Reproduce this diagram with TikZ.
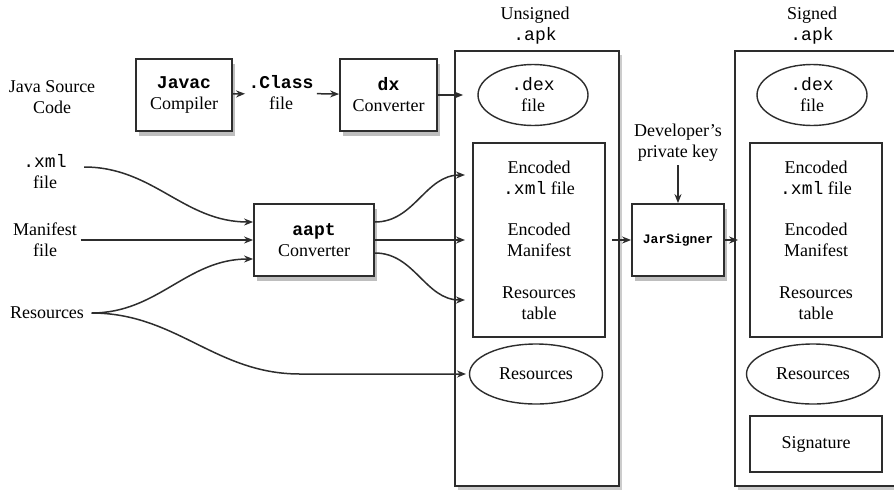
\documentclass[tikz,border=0pt]{standalone}
\usepackage{fontspec}
\setmainfont{Liberation Serif}
\setmonofont{Liberation Mono}
\usepackage{tikz}
\usetikzlibrary{arrows,arrows.meta,shapes,positioning,shadows}
\definecolor{apkline}{RGB}{45,45,45}
\definecolor{apkshadow}{RGB}{110,110,110}
\tikzstyle{arrow} = [line width=1.5pt,->,>={Stealth[length=9pt,width=7pt]},color=apkline]
\tikzstyle{tool} = [rectangle, minimum height=72pt, text centered, align=center, draw=apkline, fill=white, line width=1.8pt, drop shadow={shadow xshift=3pt, shadow yshift=-5pt, fill=apkshadow, opacity=0.45}]
\tikzstyle{apkbox} = [rectangle, minimum width=164pt, minimum height=435pt, draw=apkline, fill=white, line width=1.8pt, drop shadow={shadow xshift=3pt, shadow yshift=-4pt, fill=apkshadow, opacity=0.35}]
\tikzstyle{entry} = [ellipse, minimum width=110pt, minimum height=61pt, text centered, align=center, draw=apkline, line width=1.4pt]
\tikzstyle{section} = [rectangle, minimum width=132pt, draw=apkline, line width=1.4pt]
\tikzstyle{lbl} = [align=center, text centered]

\begin{document}
\begin{tikzpicture}[x=1pt, y=1pt, font=\fontsize{18}{21}\selectfont]
\useasboundingbox (0,0) rectangle (894,-491);

% Java sources
\node (javasrc) [lbl] at (52,-97) {Java Source\\Code};
\node (javac) [tool, minimum width=96pt] at (184,-95) {\textbf{\texttt{Javac}}\\Compiler};
\node (classf) [lbl] at (281,-93) {\textbf{\texttt{.Class}}\\file};
\node (dx) [tool, minimum width=97pt] at (388.5,-95) {\textbf{\texttt{dx}}\\Converter};

% Resource sources
\node (xmlsrc) [lbl] at (45,-172) {\texttt{.xml}\\file};
\node (mansrc) [lbl] at (45,-240) {Manifest\\file};
\node (ressrc) [lbl] at (47,-313) {Resources};
\node (aapt) [tool, minimum width=120pt] at (314,-240) {\textbf{\texttt{aapt}}\\Converter};

% Unsigned package
\node (unsigned) [apkbox] at (537,-268.5) {};
\node (unsignedlbl) [lbl] at (535,-26) {Unsigned\\\texttt{.apk}};
\node (dexu) [entry] at (533,-95) {\texttt{.dex}\\file};
\node (encu) [section, minimum height=194pt] at (539,-240) {};
\node (xmlu) [lbl] at (539,-178) {Encoded\\\texttt{.xml} file};
\node (manu) [lbl] at (539,-240) {Encoded\\Manifest};
\node (tabu) [lbl] at (539,-303) {Resources\\table};
\node (resu) [entry, minimum width=133pt, minimum height=60pt] at (536,-374) {Resources};

% Signer
\node (jar) [tool, minimum width=92pt, font=\fontsize{13}{15}\selectfont\ttfamily\bfseries] at (678,-240) {JarSigner};
\node (devkey) [lbl] at (678,-143) {Developer's\\private key};

% Signed package
\node (signed) [apkbox] at (817,-268.5) {};
\node (signedlbl) [lbl] at (812,-26) {Signed\\\texttt{.apk}};
\node (dexs) [entry] at (812,-95) {\texttt{.dex}\\file};
\node (encs) [section, minimum height=194pt] at (816,-240) {};
\node (xmls) [lbl] at (816,-178) {Encoded\\\texttt{.xml} file};
\node (mans) [lbl] at (816,-240) {Encoded\\Manifest};
\node (tabs) [lbl] at (816,-303) {Resources\\table};
\node (ress) [entry, minimum width=133pt, minimum height=60pt] at (813,-374) {Resources};
\node (sig) [section, minimum height=56pt] at (816,-444) {Signature};

% Arrow ends
\coordinate (toxml) at (465,-175);
\coordinate (toman) at (465,-240);
\coordinate (totab) at (465,-300);
\coordinate (tores) at (466,-374);
\coordinate (resbend) at (300,-374);
\coordinate (jarin) at (612,-240);

% Connectors
\draw[arrow] (javac) -- (classf);
\draw[arrow] (classf) -- (dx);
\draw[arrow, shorten >=-9pt] (dx) -- (dx -| unsigned.west);
\draw[arrow] ([xshift=14pt,yshift=5pt]xmlsrc.east) to[out=0,in=180] ([yshift=18pt]aapt.west);
\draw[arrow] (mansrc) -- (aapt);
\draw[arrow] ([xshift=4pt]ressrc.east) to[out=0,in=180] ([yshift=-19pt]aapt.west);
\draw[arrow] ([xshift=4pt]ressrc.east) to[out=0,in=180] (resbend) -- (tores);
\draw[arrow] ([yshift=18pt]aapt.east) to[out=0,in=180] (toxml);
\draw[arrow] (aapt) -- (toman);
\draw[arrow] ([yshift=-13pt]aapt.east) to[out=0,in=180] (totab);
\draw[arrow] (devkey) -- (jar);
\draw[arrow] (jarin) -- (jar);
\draw[arrow, shorten >=-4pt] (jar) -- (jar -| signed.west);
\end{tikzpicture}
\end{document}
